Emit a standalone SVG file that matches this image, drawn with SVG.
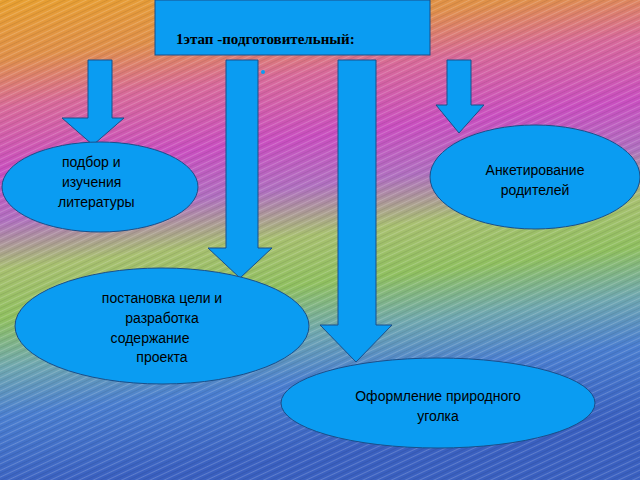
<svg xmlns="http://www.w3.org/2000/svg" width="640" height="480" viewBox="0 0 640 480">
<defs>
<linearGradient id="bg" x1="0" y1="0" x2="0.15" y2="1">
<stop offset="0" stop-color="#e8a030"/>
<stop offset="0.12" stop-color="#e0904a"/>
<stop offset="0.22" stop-color="#d86a9a"/>
<stop offset="0.35" stop-color="#c94fc0"/>
<stop offset="0.45" stop-color="#b070c0"/>
<stop offset="0.55" stop-color="#a8c070"/>
<stop offset="0.65" stop-color="#90c060"/>
<stop offset="0.75" stop-color="#70a8b0"/>
<stop offset="0.85" stop-color="#4a7ed0"/>
<stop offset="1" stop-color="#3a60c0"/>
</linearGradient>
<pattern id="streak" width="12" height="6" patternUnits="userSpaceOnUse" patternTransform="rotate(-25)">
<rect width="12" height="1" fill="#ffffff" opacity="0.18"/>
<rect y="3" width="12" height="1" fill="#000000" opacity="0.08"/>
</pattern>
</defs>
<style>
.n{fill:#0a9cf2;stroke:#1a4f8a;stroke-width:1}
.t{font-family:"Liberation Sans",Arial,sans-serif;font-size:14px;fill:#000}
</style>
<rect width="640" height="480" fill="url(#bg)"/>
<rect width="640" height="480" fill="url(#streak)"/>
<g id="title"><rect class="n" x="155" y="0" width="275" height="55"/>
<text x="176" y="44" font-family="Liberation Serif,serif" font-weight="bold" font-size="15">1этап -подготовительный:</text></g>
<g id="connectors">
<path class="n" d="M88,60H112V118H124L93,145L62,118H88Z"/>
<path class="n" d="M226,60H258V248H272L240,278L208,248H226Z"/>
<path class="n" d="M338,60H376V325H392L356,362L320,325H338Z"/>
<path class="n" d="M447,60H471V105H484L459,133L436,105H447Z"/>
<circle cx="263" cy="72" r="2" fill="#0a9cf2"/>
</g>
<g id="n1"><ellipse class="n" cx="100" cy="187" rx="98" ry="45"/>
<text class="t" x="62" y="167">подбор и</text><text class="t" x="62" y="187">изучения</text><text class="t" x="58" y="207">литературы</text></g>
<g id="n2"><ellipse class="n" cx="535" cy="177" rx="105" ry="52"/>
<text class="t" text-anchor="middle" x="535" y="175">Анкетирование</text><text class="t" text-anchor="middle" x="535" y="195">родителей</text></g>
<g id="n3"><ellipse class="n" cx="162" cy="326" rx="147" ry="58"/>
<text class="t" text-anchor="middle" x="162" y="303">постановка цели и</text><text class="t" text-anchor="middle" x="162" y="323">разработка</text><text class="t" text-anchor="middle" x="150" y="343">содержание</text><text class="t" text-anchor="middle" x="162" y="362">проекта</text></g>
<g id="n4"><ellipse class="n" cx="438" cy="403" rx="157" ry="45"/>
<text class="t" text-anchor="middle" x="438" y="401">Оформление природного</text><text class="t" text-anchor="middle" x="438" y="421">уголка</text></g>
</svg>
